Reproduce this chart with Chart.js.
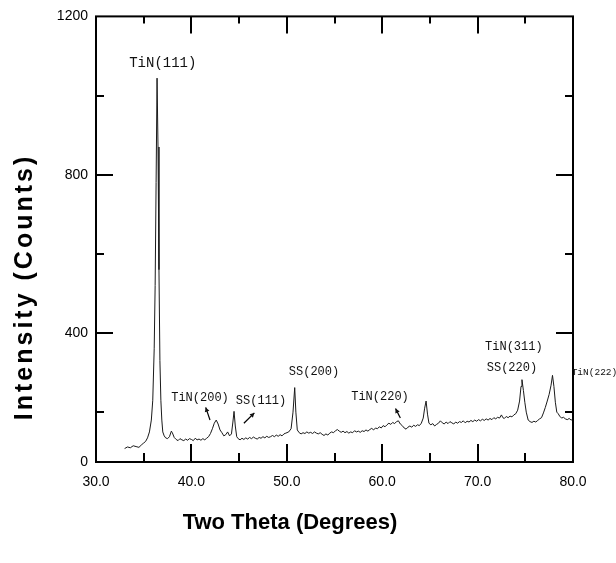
<!DOCTYPE html>
<html>
<head>
<meta charset="utf-8">
<script src="https://cdn.jsdelivr.net/npm/chart.js@4.4.1/dist/chart.umd.min.js"></script>
<style>
  html, body { margin: 0; padding: 0; background: #fff; }
  canvas { display: block; }
</style>
</head>
<body>
<canvas id="xrd" width="616" height="563"></canvas>
<script>
// diffraction pattern (2theta in degrees, intensity in counts)
const twoTheta = [
  33.0, 33.3, 33.6, 33.9, 34.2, 34.5, 34.8, 35.0, 35.2, 35.4, 35.6, 35.8, 35.95, 36.1, 36.2, 36.3, 36.4, 36.5, 36.6, 36.7,
  36.8, 36.9, 37.0, 37.15, 37.3, 37.5, 37.7, 37.9, 38.0, 38.2, 38.4, 38.6, 38.8, 39.0, 39.2, 39.4, 39.6, 39.8, 40.0, 40.2,
  40.4, 40.6, 40.8, 41.0, 41.2, 41.4, 41.6, 41.8, 42.0, 42.2, 42.4, 42.6, 42.8, 43.0, 43.2, 43.4, 43.6, 43.8, 44.0, 44.2,
  44.35, 44.47, 44.6, 44.75, 44.9, 45.1, 45.3, 45.5, 45.7, 45.9, 46.1, 46.3, 46.5, 46.7, 46.9, 47.1, 47.3, 47.5, 47.7, 47.9,
  48.1, 48.3, 48.5, 48.7, 48.9, 49.1, 49.3, 49.5, 49.7, 49.9, 50.2, 50.45, 50.65, 50.83, 50.95, 51.1, 51.3, 51.5, 51.7, 51.9,
  52.1, 52.3, 52.5, 52.7, 52.9, 53.1, 53.3, 53.5, 53.7, 53.9, 54.1, 54.3, 54.5, 54.7, 54.9, 55.1, 55.3, 55.5, 55.7, 55.9,
  56.1, 56.3, 56.5, 56.7, 56.9, 57.1, 57.3, 57.5, 57.7, 57.9, 58.1, 58.3, 58.5, 58.7, 58.9, 59.1, 59.3, 59.5, 59.7, 59.9,
  60.1, 60.3, 60.5, 60.7, 60.9, 61.1, 61.3, 61.5, 61.7, 61.9, 62.1, 62.3, 62.5, 62.7, 62.9, 63.1, 63.3, 63.5, 63.7, 63.9,
  64.1, 64.3, 64.45, 64.6, 64.75, 64.9, 65.1, 65.3, 65.5, 65.7, 65.9, 66.1, 66.3, 66.5, 66.7, 66.9, 67.1, 67.3, 67.5, 67.7,
  67.9, 68.1, 68.3, 68.5, 68.7, 68.9, 69.1, 69.3, 69.5, 69.7, 69.9, 70.1, 70.3, 70.5, 70.7, 70.9, 71.1, 71.3, 71.5, 71.7,
  71.9, 72.1, 72.3, 72.5, 72.65, 72.8, 73.0, 73.2, 73.4, 73.6, 73.8, 74.0, 74.2, 74.4, 74.55, 74.65, 74.8, 74.95, 75.1, 75.3,
  75.5, 75.7, 75.9, 76.1, 76.3, 76.5, 76.7, 76.9, 77.1, 77.3, 77.5, 77.7, 77.85, 78.0, 78.15, 78.3, 78.45, 78.6, 78.8, 79.0,
  79.2, 79.4, 79.6, 79.8, 80.0
];
const intensity = [
  108, 112, 110, 115, 113, 111, 118, 122, 126, 135, 150, 180, 230, 360, 520, 780, 1044, 870, 560, 330,
  230, 180, 150, 140, 135, 133, 138, 152, 148, 136, 131, 128, 133, 130, 128, 132, 129, 133, 131, 128,
  134, 130, 132, 129, 133, 130, 134, 138, 146, 158, 172, 180, 170, 155, 148, 140, 143, 150, 140, 145,
  175, 202, 165, 138, 133, 130, 134, 131, 135, 132, 136, 133, 137, 134, 132, 136, 134, 138, 135, 139,
  136, 138, 141, 138, 142, 139, 143, 140, 145, 147, 150, 158, 200, 262, 200, 155, 148, 145, 148, 146,
  150, 147, 149, 146, 150, 147, 145, 148, 144, 141, 145, 142, 147, 150, 148, 153, 156, 152, 149, 152,
  148, 151, 147, 150, 148, 153, 150, 152, 149, 153, 151, 155, 152, 156, 159, 155, 160, 158, 163, 160,
  166, 163, 168, 172, 169, 174, 171, 176, 178, 170, 166, 160, 157, 162, 165, 162, 167, 164, 168, 166,
  172, 185, 210, 228, 195, 172, 168, 171, 165, 169, 172, 178, 173, 170, 175, 171, 176, 173, 170, 175,
  172, 176, 174, 178, 173, 177, 175, 179, 176, 180, 177, 181, 178, 182, 179, 183, 180, 184, 181, 186,
  183, 187, 185, 193, 186, 184, 189, 186, 190, 188, 193, 196, 205, 228, 265, 282, 255, 225, 200, 180,
  176, 174, 177, 175, 179, 183, 186, 198, 212, 228, 245, 268, 293, 265, 225, 200, 196, 190, 185, 187,
  183, 181, 184, 180, 182
];

// axis ticks
const yMin = 74;
const yTickValues = [74, 200, 400, 600, 800, 1000, 1200];
const yTickLabels = ['0', '', '400', '', '800', '', '1200'];
const xTickValues = [30, 35, 40, 45, 50, 55, 60, 65, 70, 75, 80];
const xTickLabels = ['30.0', '', '40.0', '', '50.0', '', '60.0', '', '70.0', '', '80.0'];

// peak labels (data coordinates)
const peakLabels = ['TiN(111)', 'TiN(200)', 'SS(111)', 'SS(200)', 'TiN(220)', 'TiN(311)', 'SS(220)', 'TiN(222)'];
const peakLabelX = [37.0, 40.9, 47.3, 52.85, 59.77, 73.8, 73.6, 82.25];
const peakLabelY = [1082, 235, 228, 301, 238, 364, 311, 301];

// little arrows pointing at the weak peaks: [tailX, tailY, headX, headY]
const arrows = [
  [41.95, 180, 41.5, 212],
  [45.5, 172, 46.6, 198],
  [61.9, 185, 61.4, 209]
];

const framePlugin = {
  id: 'frame',
  afterDatasetsDraw(chart) {
    const c = chart.ctx;
    const a = chart.chartArea;
    const xs = chart.scales.x;
    const ys = chart.scales.y;
    c.save();
    c.strokeStyle = '#000';
    c.lineWidth = 2;
    c.strokeRect(a.left, a.top, a.right - a.left, a.bottom - a.top);

    // inward tick marks on all four sides
    c.beginPath();
    xTickValues.forEach((v, i) => {
      if (v === 30 || v === 80) return;
      const px = Math.round(xs.getPixelForValue(v));
      const major = xTickLabels[i] !== '';
      c.moveTo(px, a.bottom);
      c.lineTo(px, a.bottom - (major ? 18 : 9));
      c.moveTo(px, a.top);
      c.lineTo(px, a.top + (major ? 17 : 7));
    });
    yTickValues.forEach((v, i) => {
      if (v === yMin || v === 1200) return;
      const py = Math.round(ys.getPixelForValue(v));
      const major = yTickLabels[i] !== '';
      c.moveTo(a.left, py);
      c.lineTo(a.left + (major ? 17 : 8), py);
      c.moveTo(a.right, py);
      c.lineTo(a.right - (major ? 17 : 8), py);
    });
    c.stroke();

    // peak labels
    c.fillStyle = '#111';
    c.textAlign = 'center';
    c.textBaseline = 'middle';
    peakLabels.forEach((t, i) => {
      let size = 12;
      if (i === 0) size = 14;
      if (t === 'TiN(222)') size = 9.5;
      c.font = size + 'px "Liberation Mono", "DejaVu Sans Mono", monospace';
      c.fillText(t, xs.getPixelForValue(peakLabelX[i]), ys.getPixelForValue(peakLabelY[i]));
    });

    // arrows
    c.lineWidth = 1.2;
    arrows.forEach(([x0, y0, x1, y1]) => {
      const p0 = [xs.getPixelForValue(x0), ys.getPixelForValue(y0)];
      const p1 = [xs.getPixelForValue(x1), ys.getPixelForValue(y1)];
      c.beginPath();
      c.moveTo(p0[0], p0[1]);
      c.lineTo(p1[0], p1[1]);
      c.stroke();
      const ang = Math.atan2(p1[1] - p0[1], p1[0] - p0[0]);
      c.beginPath();
      c.moveTo(p1[0], p1[1]);
      c.lineTo(p1[0] - 5 * Math.cos(ang - 0.5), p1[1] - 5 * Math.sin(ang - 0.5));
      c.lineTo(p1[0] - 5 * Math.cos(ang + 0.5), p1[1] - 5 * Math.sin(ang + 0.5));
      c.closePath();
      c.fill();
    });

    // axis titles
    c.fillStyle = '#000';
    c.font = 'bold 22px "Liberation Sans", Arial, sans-serif';
    c.textAlign = 'center';
    c.textBaseline = 'alphabetic';
    c.fillText('Two Theta (Degrees)', 290, 529);

    c.save();
    c.translate(32, 287);
    c.rotate(-Math.PI / 2);
    c.font = 'bold 25px "Liberation Sans", Arial, sans-serif';
    c.letterSpacing = '3px';
    c.fillText('Intensity (Counts)', 0, 0);
    c.restore();
    c.restore();
  }
};

const ctx = document.getElementById('xrd').getContext('2d');
const xrdChart = new Chart(ctx, {
  type: 'line',
  data: {
    datasets: [{
      data: twoTheta.map((x, i) => ({x: x, y: intensity[i]})),
      borderColor: '#1a1a1a',
      borderWidth: 1,
      pointRadius: 0,
      tension: 0,
      fill: false
    }]
  },
  options: {
    responsive: false,
    animation: false,
    layout: {padding: {left: 0, top: 15, right: 43, bottom: 0}},
    plugins: {legend: {display: false}, tooltip: {enabled: false}},
    scales: {
      x: {
        type: 'linear',
        min: 30,
        max: 80,
        grid: {display: false, drawTicks: false},
        border: {display: false},
        afterBuildTicks: s => { s.ticks = xTickValues.map(v => ({value: v})); },
        afterFit: s => { s.height = 101; },
        ticks: {
          autoSkip: false,
          maxRotation: 0,
          padding: 12,
          color: '#000',
          font: {family: '"Liberation Sans", Arial, sans-serif', size: 14},
          callback: (v) => xTickLabels[xTickValues.indexOf(v)] || ''
        }
      },
      y: {
        type: 'linear',
        min: yMin,
        max: 1200,
        grid: {display: false, drawTicks: false},
        border: {display: false},
        afterBuildTicks: s => { s.ticks = yTickValues.map(v => ({value: v})); },
        afterFit: s => { s.width = 96; },
        ticks: {
          autoSkip: false,
          padding: 8,
          color: '#000',
          font: {family: '"Liberation Sans", Arial, sans-serif', size: 14},
          callback: (v) => yTickLabels[yTickValues.indexOf(v)] || ''
        }
      }
    }
  },
  plugins: [framePlugin]
});
</script>
</body>
</html>
